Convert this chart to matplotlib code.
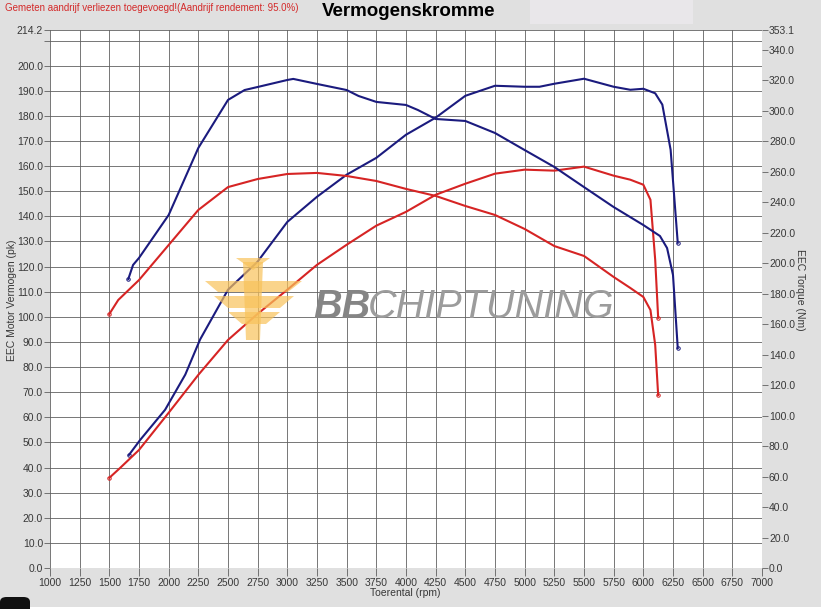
import numpy as np
import matplotlib.pyplot as plt
from matplotlib.patches import Rectangle, FancyBboxPatch, Polygon

plt.rcParams['font.family'] = ['Liberation Sans', 'DejaVu Sans']

# --- data ---
# blue = tuned, red = stock ; power on left axis (pk), torque on right axis (Nm)
rpm_blue_tq = [1660, 1700, 1750, 2000, 2250, 2500, 2640, 2750, 3000, 3050, 3250, 3500, 3600,
               3750, 4000, 4100, 4250, 4500, 4750, 5000, 5250, 5500, 5750, 6000, 6140, 6200,
               6250, 6290]
tq_blue = [189.7, 198.9, 203.5, 231.7, 275.7, 307.2, 313.7, 315.7, 320.3, 321.0, 317.7, 313.7,
           309.8, 305.9, 303.9, 300.6, 294.7, 293.4, 285.5, 274.3, 263.2, 250.0, 236.9, 225.1,
           217.9, 210.0, 192.3, 144.4]

rpm_blue_pw = [1665, 1760, 1970, 2140, 2265, 2500, 2750, 3000, 3250, 3500, 3750, 4000, 4250,
               4500, 4750, 5000, 5125, 5250, 5500, 5750, 5890, 6000, 6100, 6160, 6230, 6290]
pw_blue = [45.0, 51.0, 63.0, 77.0, 91.0, 110.8, 122.0, 137.8, 147.8, 156.6, 163.3, 172.5, 179.3,
           188.0, 192.0, 191.6, 191.6, 192.8, 194.8, 191.6, 190.4, 190.8, 189.0, 184.5, 166.5,
           129.5]

rpm_red_tq = [1500, 1575, 1750, 2000, 2250, 2500, 2750, 3000, 3250, 3500, 3750, 4000, 4250,
              4500, 4750, 5000, 5250, 5500, 5750, 5890, 6000, 6060, 6100, 6125]
tq_red = [166.7, 175.9, 189.0, 212.0, 235.0, 250.0, 255.3, 258.6, 259.3, 257.3, 254.0, 248.8,
          244.2, 237.6, 231.7, 222.5, 211.3, 204.8, 191.0, 183.8, 177.9, 169.3, 146.4, 113.5]

rpm_red_pw = [1500, 1590, 1750, 2000, 2250, 2500, 2750, 3000, 3250, 3500, 3750, 4000, 4250,
              4500, 4750, 5000, 5250, 5500, 5750, 5890, 6000, 6060, 6100, 6125]
pw_red = [35.9, 39.8, 47.0, 61.8, 76.9, 90.8, 101.2, 110.8, 120.7, 128.7, 136.3, 141.8, 148.6,
          153.0, 157.0, 158.6, 158.2, 159.8, 156.2, 154.6, 152.6, 146.6, 122.7, 99.6]

x_ticks = list(range(1000, 7001, 250))
left_ticks = list(range(0, 211, 10)) + [214.2]
right_ticks = list(range(0, 341, 20)) + [353.1]

BG = '#e0e0e0'
BLUE = '#1b1b7e'
RED = '#d62424'
GRID = '#606060'
TXT = '#383838'

fig = plt.figure(figsize=(8.21, 6.09), dpi=100, facecolor=BG)
ax = fig.add_axes([50 / 821, 41 / 609, 712 / 821, 538 / 609])
ax.set_facecolor('white')
ax2 = ax.twinx()

ax.set_xlim(1000, 7000)
ax.set_ylim(0, 214.2)
ax2.set_ylim(0, 353.1)

ax.set_xticks(x_ticks)
ax.set_xticklabels([str(t) for t in x_ticks])
ax.set_yticks(left_ticks)
ax.set_yticklabels(['%.1f' % t if t != 210 else '' for t in left_ticks])
ax2.set_yticks(right_ticks)
ax2.set_yticklabels(['%.1f' % t for t in right_ticks])

ax.tick_params(axis='both', labelsize=7.5, colors=GRID, length=4, width=0.6, pad=1)
ax.tick_params(axis='x', length=6, pad=1)
ax2.tick_params(axis='y', labelsize=7.5, colors=GRID, length=4, width=0.6, pad=1)
for tl in ax.get_yticklabels() + ax2.get_yticklabels() + ax.get_xticklabels():
    tl.set_color(TXT)

ax.grid(True, color=GRID, linewidth=0.6)
ax.set_axisbelow(True)
for a in (ax, ax2):
    for s in a.spines.values():
        s.set_visible(False)

# logo (watermark)
fig.text(313 / 821, 1 - 307 / 609, 'BB', fontsize=28.5, fontstyle='italic', fontweight='bold',
         color='#858585', va='center', ha='left', zorder=1)
fig.text(368 / 821, 1 - 307 / 609, 'CHIPTUNING', fontsize=28.5, fontstyle='italic',
         color='#9c9c9c', va='center', ha='left', zorder=1)
wing = '#f8c25a'
emb = [
    [(205, 281), (302, 281), (288, 292), (218, 292)],
    [(214, 296), (294, 296), (280, 308), (228, 308)],
    [(228, 312), (280, 312), (266, 324), (242, 324)],
    [(243, 262), (263, 262), (260, 340), (246, 340)],
    [(236, 258), (270, 258), (253, 270)],
]
for pts in emb:
    fig.patches.append(Polygon([(px / 821, 1 - py / 609) for px, py in pts], closed=True,
                               transform=fig.transFigure, facecolor=wing, alpha=0.7,
                               edgecolor='none', zorder=1))

ax.plot(rpm_red_pw, pw_red, color=RED, lw=1.5, zorder=3)
ax.plot(rpm_blue_pw, pw_blue, color=BLUE, lw=1.5, zorder=3)
ax2.plot(rpm_red_tq, tq_red, color=RED, lw=1.5)
ax2.plot(rpm_blue_tq, tq_blue, color=BLUE, lw=1.5)
# small end markers
ax.plot([rpm_red_pw[0], rpm_red_pw[-1]], [pw_red[0], pw_red[-1]], 'o', ms=2.5, mfc='none', mec=RED, mew=0.7)
ax.plot([rpm_blue_pw[0], rpm_blue_pw[-1]], [pw_blue[0], pw_blue[-1]], 'o', ms=2.5, mfc='none', mec=BLUE, mew=0.7)
ax2.plot([rpm_red_tq[0], rpm_red_tq[-1]], [tq_red[0], tq_red[-1]], 'o', ms=2.5, mfc='none', mec=RED, mew=0.7)
ax2.plot([rpm_blue_tq[0], rpm_blue_tq[-1]], [tq_blue[0], tq_blue[-1]], 'o', ms=2.5, mfc='none', mec=BLUE, mew=0.7)

# titles and labels
fig.text(409 / 821, 1 - 12 / 609, 'Vermogenskromme', fontsize=13.5, fontweight='bold',
         ha='center', va='center', color='black')
fig.text(5 / 821, 1 - 8 / 609, 'Gemeten aandrijf verliezen toegevoegd!(Aandrijf rendement: 95.0%)',
         fontsize=7, color='#d42a2a', ha='left', va='center')
fig.text(12 / 821, 1 - 300 / 609, 'EEC Motor Vermogen (pk)', fontsize=7.5, color=TXT,
         rotation=90, ha='center', va='center')
fig.text(800 / 821, 1 - 290 / 609, 'EEC Torque (Nm)', fontsize=7.5, color=TXT,
         rotation=270, ha='center', va='center')
fig.text(405 / 821, 1 - 593 / 609, 'Toerental (rpm)', fontsize=7.5, color=TXT,
         ha='center', va='center')

# decorative boxes seen in the screenshot
fig.patches.append(Rectangle((530 / 821, 1 - 24 / 609), 163 / 821, 24 / 609,
                             transform=fig.transFigure, facecolor='#e9e7ea', edgecolor='none', zorder=0))
fig.patches.append(Rectangle((0, 0), 1, 2 / 609, transform=fig.transFigure,
                             facecolor='white', edgecolor='none', zorder=0))
fig.patches.append(FancyBboxPatch((0, -10 / 609), 30 / 821, 22 / 609,
                                  boxstyle='round,pad=0,rounding_size=0.008',
                                  transform=fig.transFigure, facecolor='#111111',
                                  edgecolor='none', zorder=0))

fig.savefig('out.png', dpi=100, facecolor=BG)
